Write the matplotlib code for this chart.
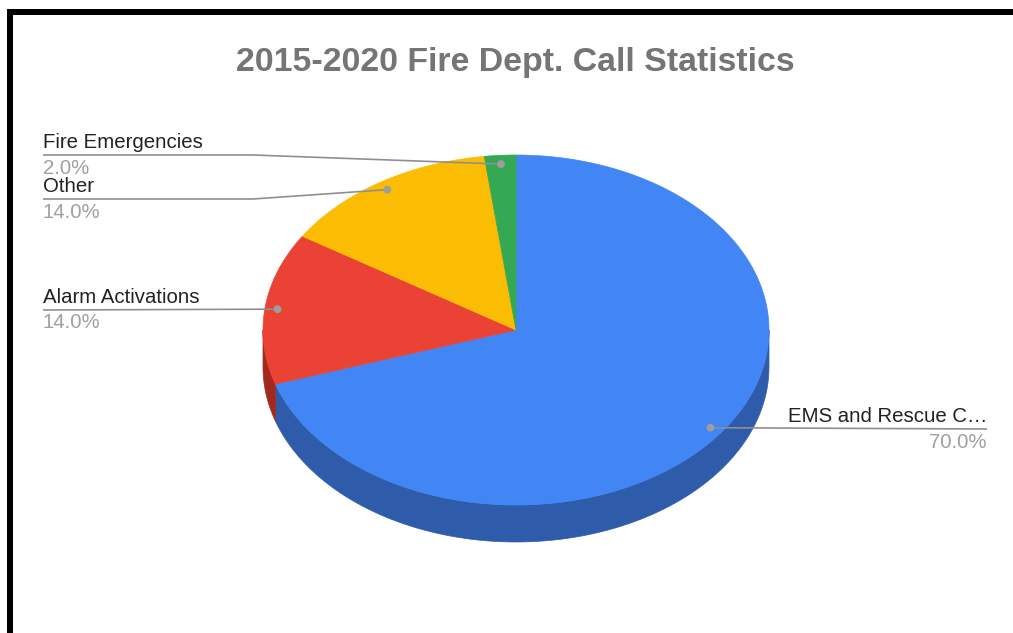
import numpy as np
import matplotlib.pyplot as plt
from matplotlib.patches import Polygon, Rectangle, Circle

plt.rcParams['font.family'] = ['Liberation Sans', 'DejaVu Sans']

# Data
labels = ["EMS and Rescue C\u2026", "Alarm Activations", "Other", "Fire Emergencies"]
shares = [70.0, 14.0, 14.0, 2.0]
top_colors = ["#4285f4", "#ea4335", "#fbbc04", "#34a853"]
side_colors = ["#2e5cab", "#a3291f", "#b08403", "#24763a"]

# Layout (pixel coordinates)
cx, cy = 516, 330
rx, ry = 253, 175
depth = 37

fig = plt.figure(figsize=(10.13, 6.33), dpi=100)
ax = fig.add_axes([0, 0, 1, 1])
ax.set_xlim(0, 1013)
ax.set_ylim(633, 0)
ax.axis("off")


def pt(theta_deg, f=1.0):
    t = np.radians(theta_deg)
    return cx + f * rx * np.cos(t), cy - f * ry * np.sin(t)


# slice angles: start at 12 o'clock, go clockwise
total = sum(shares)
bounds = []
start = 90.0
for s in shares:
    end = start - 360.0 * s / total
    bounds.append((start, end))
    start = end

# side walls (front half only)
for (a0, a1), col in zip(bounds, side_colors):
    lo, hi = min(a0, a1), max(a0, a1)
    for shift in (0, -360, 360):
        l2, h2 = max(lo + shift, -180), min(hi + shift, 0)
        if h2 <= l2:
            continue
        t = np.linspace(l2, h2, 100)
        xs, ys = pt(t)
        poly = np.column_stack([np.r_[xs, xs[::-1]], np.r_[ys, ys[::-1] + depth]])
        ax.add_patch(Polygon(poly, closed=True, facecolor=col, edgecolor=col, lw=0.5))

# top faces
for (a0, a1), col in zip(bounds, top_colors):
    t = np.linspace(a0, a1, 200)
    xs, ys = pt(t)
    poly = np.column_stack([np.r_[cx, xs], np.r_[cy, ys]])
    ax.add_patch(Polygon(poly, closed=True, facecolor=col, edgecolor=col, lw=0.5))

# labels with leader lines: (text x, line y, bend x, align)
label_layout = {
    "Fire Emergencies": (43, 155, 253, "left"),
    "Other": (43, 199, 253, "left"),
    "Alarm Activations": (43, 310, None, "left"),
    "EMS and Rescue C\u2026": (987, 429, None, "right"),
}
line_col = "#8f8f8f"
for lab, s, (a0, a1) in zip(labels, shares, bounds):
    mid = (a0 + a1) / 2
    dx, dy = pt(mid, 0.95)
    tx, ly, bx, ha = label_layout[lab]
    if bx is None:
        xs, ys = [tx, dx], [ly, dy]
    else:
        xs, ys = [tx, bx, dx], [ly, ly, dy]
    ax.plot(xs, ys, color=line_col, lw=1.2, solid_capstyle="butt")
    ax.add_patch(Circle((dx, dy), 3.2, color="#9e9e9e", zorder=5))
    ax.text(tx, ly - 7, lab, ha=ha, va="baseline", fontsize=14.7, color="#222222")
    ax.text(tx, ly + 18.5, f"{s:.1f}%", ha=ha, va="baseline", fontsize=14.7, color="#a0a0a0")

# title
ax.text(515, 71, "2015-2020 Fire Dept. Call Statistics", ha="center", va="baseline",
        fontsize=24.4, fontweight="bold", color="#757575")

# frame border (top and left)
ax.add_patch(Rectangle((7, 9), 1013, 6, facecolor="black", edgecolor="none"))
ax.add_patch(Rectangle((7, 9), 6, 633, facecolor="black", edgecolor="none"))

fig.savefig("out.png", dpi=100)
